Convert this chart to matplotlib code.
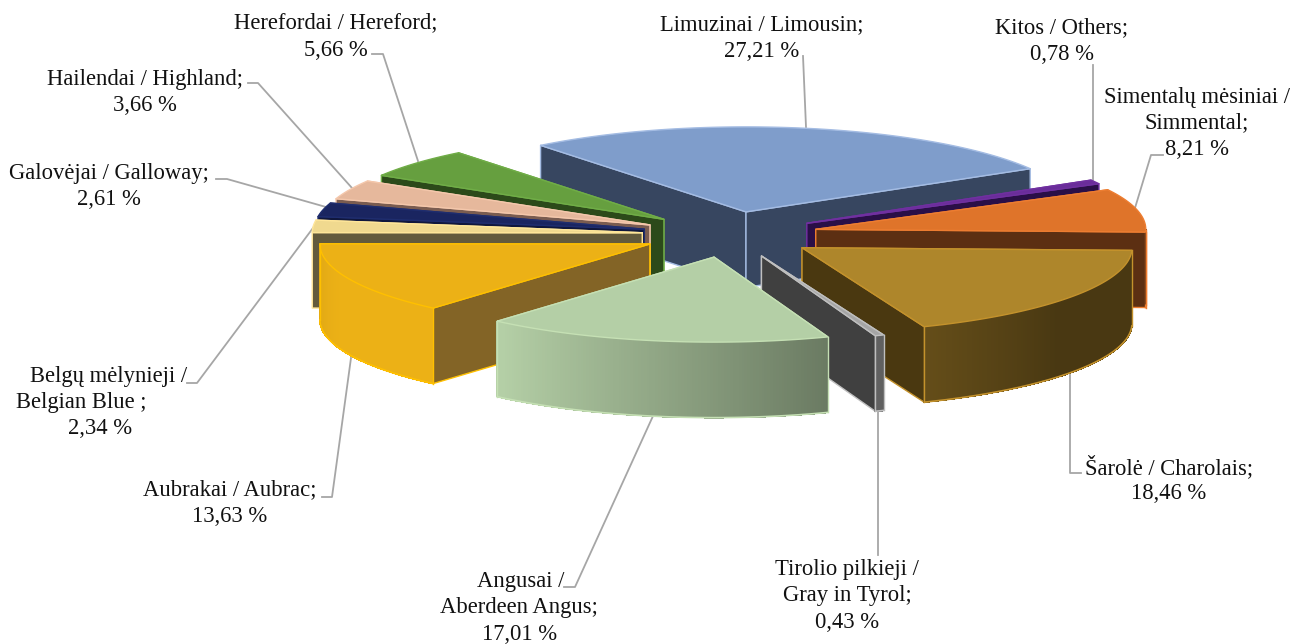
#Exploded 3D pie of beef cattle breeds, drawn by hand since matplotlib has no 3D pie
import numpy as np
import matplotlib
matplotlib.use('Agg')
from matplotlib import pyplot as plt
from matplotlib.colors import to_rgb
from matplotlib.patches import Polygon

plt.rcParams['font.family'] = ['Liberation Serif', 'DejaVu Serif']

#slices in clockwise order, starting at the Limousin slice
values = [27.21, 0.78, 8.21, 18.46, 0.43, 17.01, 13.63, 2.34, 2.61, 3.66, 5.66]
top_colors = ['#7f9dcb', '#6a2d9a', '#df742a', '#ae862b', '#a5a5a5', '#b4cfa6',
              '#ecb116', '#f0d98f', '#1a2560', '#e6b89c', '#669f3f']
edge_colors = ['#a4bce3', '#7030a0', '#ed7d31', '#c4922c', '#bfbfbf', '#c5e0b4',
               '#ffc000', '#ffe699', '#1f2d6e', '#f4c7ab', '#70ad47']
wall_colors = ['#374660', '#2a0f47', '#5c2f12', '#4a3810', '#404040', '#6b7b5f',
               '#836426', '#635a3c', '#10173d', '#7a5c50', '#2c4a1a']

#label text, one entry per line: (text, x centre, y centre)
labels = [
    [('Limuzinai / Limousin;', 762, 24.5), ('27,21 %', 762, 51)],
    [('Kitos / Others;', 1062, 27.5), ('0,78 %', 1062, 54)],
    [('Simentalų mėsiniai /', 1197, 97), ('Simmental;', 1197, 123), ('8,21 %', 1197, 149)],
    [('Šarolė / Charolais;', 1169, 467), ('18,46 %', 1169, 493)],
    [('Tirolio pilkieji /', 847, 570), ('Gray in Tyrol;', 847, 596), ('0,43 %', 847, 622)],
    [('Angusai /', 521, 582), ('Aberdeen Angus;', 519, 608), ('17,01 %', 520, 634)],
    [('Aubrakai / Aubrac;', 230, 490), ('13,63 %', 230, 516)],
    [('Belgų mėlynieji /', 109, 376), ('Belgian Blue ;', 81, 402), ('2,34 %', 100, 428)],
    [('Galovėjai / Galloway;', 109, 173), ('2,61 %', 109, 199)],
    [('Hailendai / Highland;', 145, 79), ('3,66 %', 145, 105)],
    [('Herefordai / Hereford;', 336, 23), ('5,66 %', 336, 50)],
]

#leader lines from the labels to the slices
leaders = [
    [(803, 56), (806, 127)],
    [(1093, 65), (1093, 180)],
    [(1163, 155), (1151, 155), (1135, 208)],
    [(1070, 375), (1070, 473), (1081, 473)],
    [(878, 412), (878, 555)],
    [(564, 587), (575, 587), (653, 416)],
    [(322, 497), (332, 497), (351, 358)],
    [(187, 383), (197, 383), (316, 224)],
    [(216, 179), (227, 179), (326, 207)],
    [(248, 83), (258, 83), (352, 188)],
    [(372, 54), (383, 54), (418, 161)],
]

#pie geometry in pixels
center_x, center_y = 730, 234.5
radius_x, radius_y = 330, 85
explode_x, explode_y = 88, 23
height = 75.5
start_angle = -38.5

#brightness of the outer wall depending on the angle
shade_angles = [90, 130, 157, 190, 220, 250, 270]
shade_levels = [0.42, 0.42, 0.57, 0.8, 1.0, 1.0, 0.95]

fig = plt.figure(figsize=(12.96, 6.44), dpi=100)
ax = fig.add_axes([0, 0, 1, 1])
ax.set_xlim(0, 1296)
ax.set_ylim(644, 0)
ax.axis('off')

fractions = np.cumsum([0] + values) / np.sum(values)
angles = start_angle + 360 * fractions


def rim(tip, angle):
    a = np.radians(angle)
    return np.column_stack((tip[0] + radius_x * np.sin(a), tip[1] - radius_y * np.cos(a)))


def draw_slice(i):
    a0, a1 = angles[i], angles[i + 1]
    mid = np.radians((a0 + a1) / 2)
    tip = (center_x + explode_x * np.sin(mid), center_y - explode_y * np.cos(mid))
    steps = np.linspace(a0, a1, max(int(a1 - a0) * 2, 2) + 1)
    arc = rim(tip, steps)
    down = np.array([0, height])

    #side walls, the one further back first
    walls = [arc[0], arc[-1]]
    walls.sort(key=lambda p: p[1])
    for p in walls:
        wall = [tip, p, p + down, np.array(tip) + down]
        ax.add_patch(Polygon(wall, closed=True, facecolor=wall_colors[i],
                             edgecolor=edge_colors[i], linewidth=1.0, joinstyle='round'))

    #outer wall in thin strips so it can have a gradient, no antialiasing or the seams show
    base = np.array(to_rgb(top_colors[i]))
    front = np.cos(np.radians(steps)) < 0
    for j in range(len(steps) - 1):
        if not (front[j] and front[j + 1]):
            continue
        color = base * np.interp((steps[j] + steps[j + 1]) / 2 % 360, shade_angles, shade_levels)
        strip = [arc[j], arc[j + 1], arc[j + 1] + down, arc[j] + down]
        ax.add_patch(Polygon(strip, closed=True, facecolor=color, edgecolor=color,
                             linewidth=0.6, antialiased=False))
    if front.any():
        low = arc[front] + down
        ax.plot(low[:, 0], low[:, 1], color=edge_colors[i], linewidth=1.2)
        for k in (0, -1):
            p = arc[front][k]
            ax.plot([p[0], p[0]], [p[1], p[1] + height], color=edge_colors[i], linewidth=1.0)

    #top face
    top = np.vstack(([tip], arc))
    ax.add_patch(Polygon(top, closed=True, facecolor=top_colors[i],
                         edgecolor=edge_colors[i], linewidth=1.0, joinstyle='round'))


#paint from back to front
order = sorted(range(len(values)),
               key=lambda i: -np.cos(np.radians((angles[i] + angles[i + 1]) / 2)))
for i in order:
    draw_slice(i)

for line in leaders:
    xs = [p[0] for p in line]
    ys = [p[1] for p in line]
    ax.plot(xs, ys, color='#a6a6a6', linewidth=1.3, zorder=0)

for label in labels:
    for text, x, y in label:
        ax.text(x, y, text, ha='center', va='center', fontsize=16.3, color='#111111')

plt.savefig('out.png', dpi=100)
